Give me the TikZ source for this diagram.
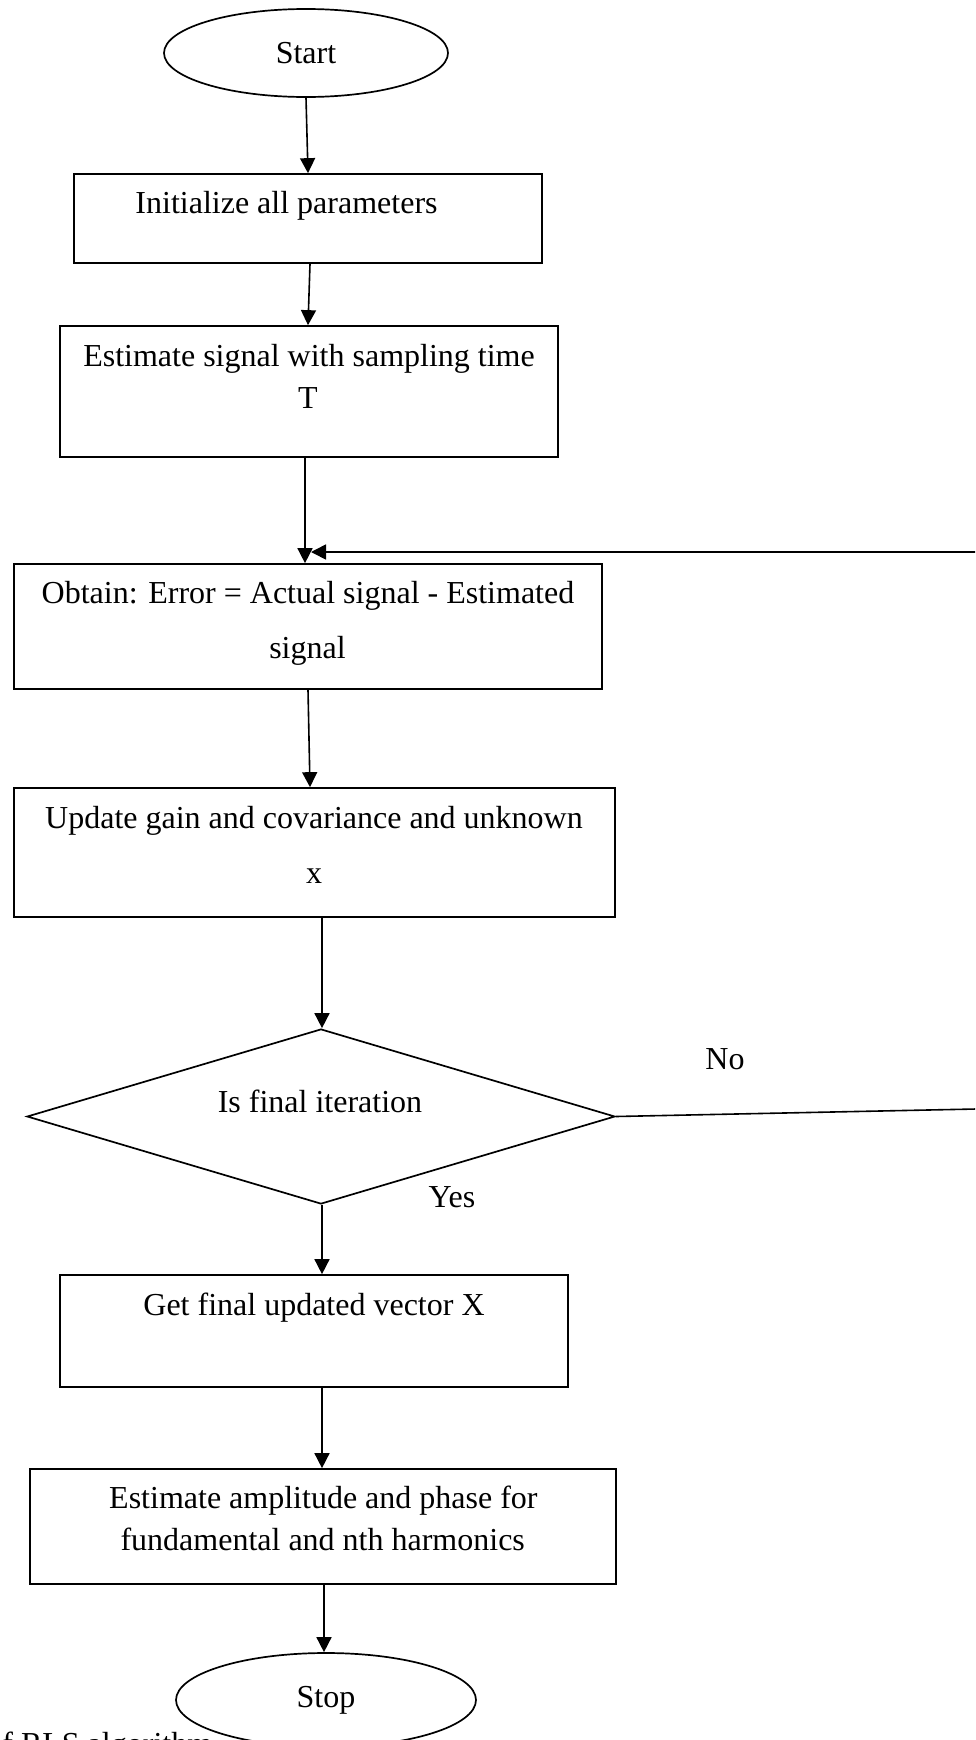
\documentclass[tikz,border=0pt]{standalone}
\usepackage{fontspec}
\setmainfont{Liberation Serif}
\usetikzlibrary{shapes.geometric,arrows.meta}
\begin{document}
\begin{tikzpicture}[x=0.5pt,y=-0.5pt,
  lbl/.style={font=\fontsize{16}{19}\selectfont, inner sep=0pt, anchor=base},
  box/.style={draw, line width=0.85pt, inner sep=0pt},
  term/.style={draw, ellipse, line width=0.85pt, inner sep=0pt, fill=white, font=\fontsize{16}{19}\selectfont},
  decision/.style={draw, diamond, line width=0.85pt, inner sep=0pt},
  arr/.style={line width=0.8pt, -{Triangle[length=7.5pt,width=7.5pt]}}]
\useasboundingbox (0,0) rectangle (975,1740);
\clip (0,0) rectangle (975,1740);

% cropped caption at the bottom edge
\node[lbl, anchor=base west] (cap) at (2,1754) {f RLS algorithm};

% terminals
\node[term, minimum width=142pt, minimum height=44pt] (start) at (306,53) {Start};
\node[term, minimum width=150pt, minimum height=47pt] (stop) at (326,1700) {Stop};

% boxes
\node[box, minimum width=234pt, minimum height=44.5pt] (b1) at (308,218.5) {};
\node[lbl] (t1) at (286.5,213) {Initialize all parameters};

\node[box, minimum width=249pt, minimum height=65.5pt] (b2) at (309,391.5) {};
\node[lbl] (t2a) at (309,366) {Estimate signal with sampling time};
\node[lbl] (t2b) at (308,408) {T};

\node[box, minimum width=294pt, minimum height=62.5pt] (b3) at (308,626.5) {};
\node[lbl] (t3a) at (308,603) {Obtain: Error = Actual signal - Estimated};
\node[lbl] (t3b) at (307.5,658) {signal};

\node[box, minimum width=300.5pt, minimum height=64.5pt] (b4) at (314.5,852.5) {};
\node[lbl] (t4a) at (314,828) {Update gain and covariance and unknown};
\node[lbl] (t4b) at (314,883) {x};

\node[decision, minimum width=294pt, minimum height=87.5pt] (dia) at (321,1116.5) {};
\node[lbl] (td) at (320,1112) {Is final iteration};

\node[box, minimum width=254pt, minimum height=56pt] (b5) at (314,1331) {};
\node[lbl] (t5) at (314,1315) {Get final updated vector X};

\node[box, minimum width=293pt, minimum height=57.5pt] (b6) at (323,1526.5) {};
\node[lbl] (t6a) at (323.4,1508) {Estimate amplitude and phase for};
\node[lbl] (t6b) at (322.7,1550) {fundamental and nth harmonics};

% branch labels
\node[lbl] (no) at (725,1069) {No};
\node[lbl] (yes) at (452,1207) {Yes};

% connectors
\draw[arr] (start.south) -- (b1.north);
\draw[arr] ([xshift=1pt]b1.south) -- ([xshift=-0.5pt]b2.north);
\draw[arr] ([xshift=-2pt]b2.south) -- ([xshift=-1.5pt]b3.north);
\draw[arr] (b3.south) -- ([xshift=-2.25pt]b4.north);
\draw[arr] ([xshift=3.75pt]b4.south) -- ([xshift=0.5pt]dia.north);
\draw[arr] ([xshift=0.5pt]dia.south) -- ([xshift=4pt]b5.north);
\draw[arr] ([xshift=4pt]b5.south) -- ([xshift=-0.5pt]b6.north);
\draw[arr] ([xshift=0.5pt]b6.south) -- ([xshift=-1pt]stop.north);

% feedback loop (its vertical part lies beyond the right edge)
\coordinate (r1) at (1000,1108.5);
\coordinate (r2) at (1000,552);
\coordinate (join) at (311,552);
\draw[arr] (dia.east) -- (r1) -- (r2) -- (join);
\end{tikzpicture}
\end{document}
